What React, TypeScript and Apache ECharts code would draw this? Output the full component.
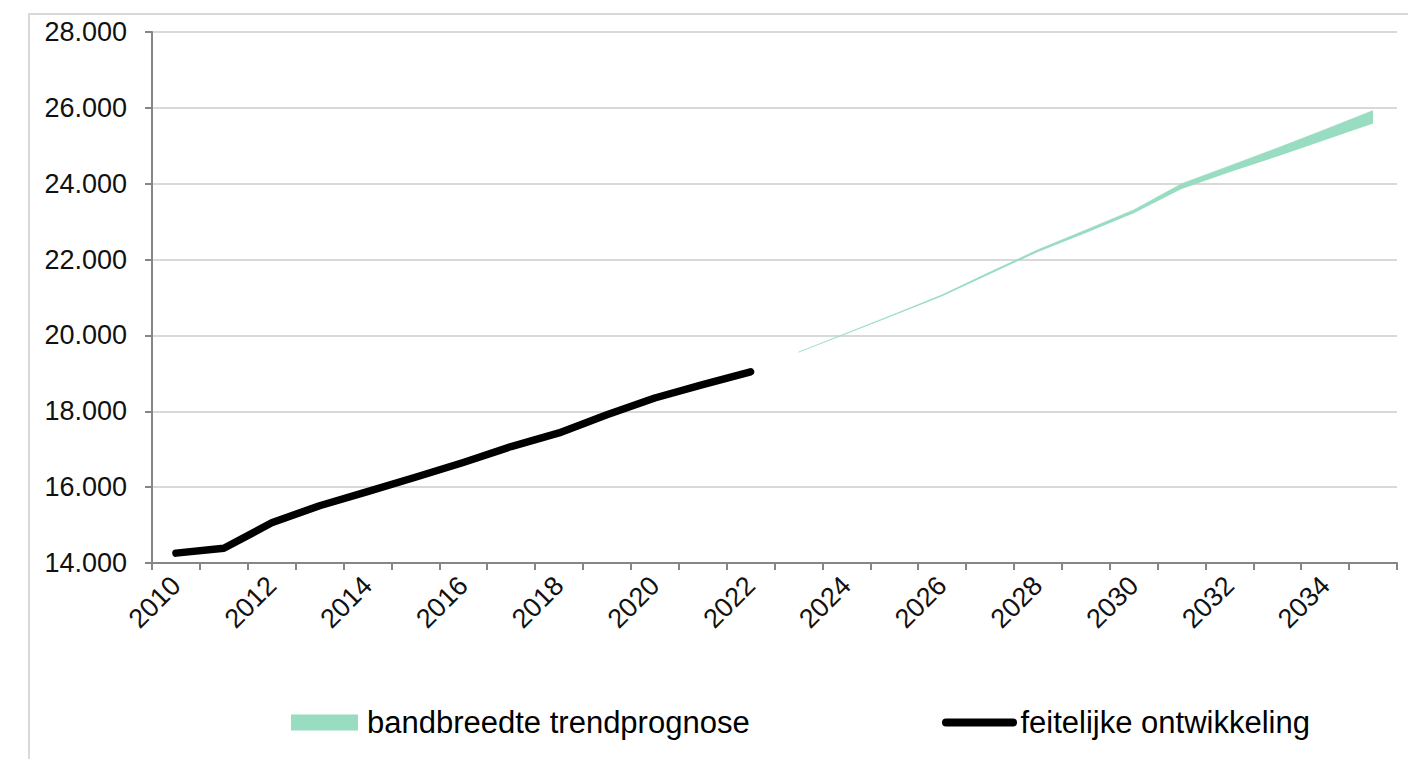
import React, { useEffect, useRef } from "react";
import * as echarts from "echarts";

const years = [
  "2010", "2011", "2012", "2013", "2014", "2015", "2016", "2017", "2018",
  "2019", "2020", "2021", "2022", "2023", "2024", "2025", "2026", "2027",
  "2028", "2029", "2030", "2031", "2032", "2033", "2034", "2035",
];

const actual = [
  14260, 14390, 15060, 15510, 15880, 16260, 16650, 17070, 17430, 17910,
  18350, 18700, 19040, null, null, null, null, null, null, null, null, null,
  null, null, null, null,
];

const bandLow = [
  null, null, null, null, null, null, null, null, null, null, null, null, null,
  19550, 20040, 20530, 21030, 21620, 22200, 22700, 23220, 23860, 24300, 24720,
  25150, 25590,
];

const bandHigh = [
  null, null, null, null, null, null, null, null, null, null, null, null, null,
  19560, 20060, 20560, 21070, 21670, 22260, 22780, 23310, 24000, 24470, 24940,
  25430, 25930,
];

const yTicks = { min: 14000, max: 28000, interval: 2000 };

const BAND_NAME = "bandbreedte trendprognose";
const LINE_NAME = "feitelijke ontwikkeling";

const FONT = 'Arial, "Liberation Sans", sans-serif';

export default function App() {
  const ref = useRef<HTMLDivElement>(null);

  useEffect(() => {
    if (!ref.current) return;
    const chart = echarts.init(ref.current, null, { renderer: "svg" });
    const bandWidth = bandHigh.map((h, i) =>
      h == null || bandLow[i] == null ? null : (h as number) - (bandLow[i] as number)
    );
    const fmt = (v: number) =>
      String(Math.round(v)).replace(/\B(?=(\d{3})+(?!\d))/g, ".");

    chart.setOption({
      animation: false,
      backgroundColor: "#ffffff",
      textStyle: { fontFamily: FONT },
      grid: { left: 152, top: 32, right: 11, bottom: 196, containLabel: false },
      graphic: [
        {
          type: "rect",
          shape: { x: 29, y: 14, width: 1420, height: 800 },
          style: { fill: "none", stroke: "#d9d9d9", lineWidth: 2 },
          silent: true,
          z: -10,
        },
      ],
      legend: [
        {
          data: [{ name: BAND_NAME, icon: "rect" }],
          left: 286,
          top: 702,
          itemWidth: 67,
          itemHeight: 16,
          textStyle: { fontSize: 31, color: "#000", fontFamily: FONT, padding: [0, 0, 0, 4] },
          selectedMode: false,
        },
        {
          data: [
            {
              name: LINE_NAME,
              icon: "path://M4,0 H71 A4,4 0 0 1 71,8 H4 A4,4 0 0 1 4,0 Z",
            },
          ],
          left: 937,
          top: 702,
          itemWidth: 76,
          itemHeight: 8,
          textStyle: { fontSize: 31, color: "#000", fontFamily: FONT, padding: [0, 0, 0, -2] },
          selectedMode: false,
        },
      ],
      xAxis: {
        type: "category",
        data: years,
        boundaryGap: true,
        axisLine: { lineStyle: { color: "#868686", width: 2 } },
        axisTick: {
          show: true,
          interval: 0,
          length: 7,
          lineStyle: { color: "#868686", width: 2 },
        },
        axisLabel: {
          interval: 1,
          rotate: 45,
          fontSize: 27,
          color: "#111",
          fontFamily: FONT,
          margin: 18,
        },
        splitLine: { show: false },
      },
      yAxis: {
        type: "value",
        min: yTicks.min,
        max: yTicks.max,
        interval: yTicks.interval,
        axisLine: { show: true, lineStyle: { color: "#868686", width: 2 } },
        axisTick: { show: true, length: 7, lineStyle: { color: "#868686", width: 2 } },
        axisLabel: {
          fontSize: 27,
          color: "#111",
          fontFamily: FONT,
          margin: 25,
          formatter: fmt,
        },
        splitLine: { show: true, lineStyle: { color: "#d9d9d9", width: 2 } },
      },
      series: [
        {
          name: "base",
          type: "line",
          data: bandLow,
          stack: "band",
          symbol: "none",
          lineStyle: { width: 0, opacity: 0 },
          areaStyle: { opacity: 0 },
          silent: true,
          z: 1,
        },
        {
          name: BAND_NAME,
          type: "line",
          data: bandWidth,
          stack: "band",
          symbol: "none",
          color: "#98dcc1",
          lineStyle: { width: 0.6, color: "#98dcc1" },
          areaStyle: { color: "#98dcc1", opacity: 1 },
          silent: true,
          z: 2,
        },
        {
          name: LINE_NAME,
          type: "line",
          data: actual,
          symbol: "none",
          color: "#000",
          lineStyle: { width: 7.5, color: "#000", cap: "round", join: "round" },
          silent: true,
          z: 3,
        },
      ],
    });
    return () => chart.dispose();
  }, []);

  return (
    <div
      ref={ref}
      style={{ position: "fixed", left: 0, top: 0, width: 1408, height: 759 }}
    />
  );
}
